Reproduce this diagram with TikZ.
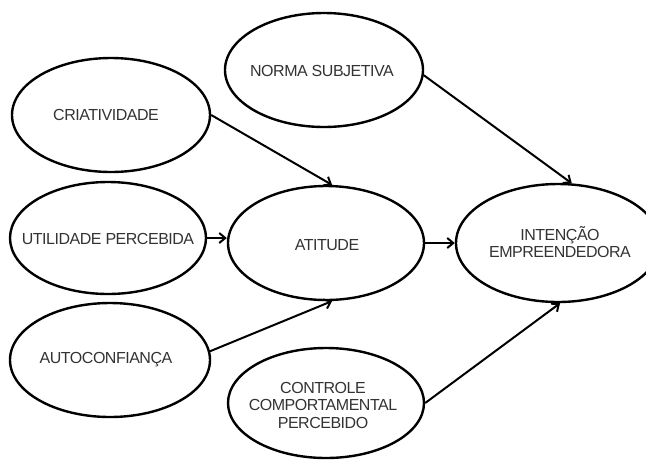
\documentclass[tikz,border=0pt]{standalone}
\usepackage{fontspec}
\setmainfont{Liberation Sans}[LetterSpace=-3]
\usetikzlibrary{shapes.geometric,arrows.meta}
\begin{document}
\begin{tikzpicture}[x=1pt,y=-1pt,
  construct/.style={ellipse,draw=black,line width=2.4pt,inner sep=0pt},
  caption/.style={align=center,inner sep=0pt,text=black!80,
    font=\fontsize{16}{17.5}\selectfont},
  path/.style={draw=black,line width=2pt,
    -{Straight Barb[length=6pt,width=10pt,line width=2pt]}}]
\useasboundingbox (0,0) rectangle (646,459);
\clip (0,0) rectangle (646,459);

% constructs
\node[construct,minimum width=198pt,minimum height=114pt] (norma) at (324,70) {};
\node[construct,minimum width=198pt,minimum height=114pt] (crit) at (111,115) {};
\node[construct,minimum width=196pt,minimum height=112pt] (util) at (108,238) {};
\node[construct,minimum width=196pt,minimum height=114pt] (atit) at (326,243) {};
\node[construct,minimum width=204pt,minimum height=118pt] (intent) at (558,243) {};
\node[construct,minimum width=200pt,minimum height=114pt] (auto) at (110,360) {};
\node[construct,minimum width=196pt,minimum height=110pt] (ctrl) at (326,403) {};

% their names
\node[caption] (norma-t)  at (322,71)  {NORMA SUBJETIVA};
\node[caption] (crit-t)   at (106,115) {CRIATIVIDADE};
\node[caption] (util-t)   at (108,239) {UTILIDADE PERCEBIDA};
\node[caption] (atit-t)   at (327,245) {ATITUDE};
\node[caption] (intent-t) at (560,242) {INTENÇÃO\\EMPREENDEDORA};
\node[caption] (auto-t)   at (106,360) {AUTOCONFIANÇA};
\node[caption] (ctrl-t)   at (323,405) {CONTROLE\\COMPORTAMENTAL\\PERCEBIDO};

% paths
\draw[path] (crit.east) -- (atit.84);
\draw[path] (norma.-3) -- (intent.77);
\draw[path] (util.east) -- (util.east -| atit.west);
\draw[path] (atit.east) -- (intent.west);
\draw[path] (auto.5) -- (atit.-84);
\draw[path] (ctrl.east) -- (intent.-88);
\end{tikzpicture}
\end{document}
